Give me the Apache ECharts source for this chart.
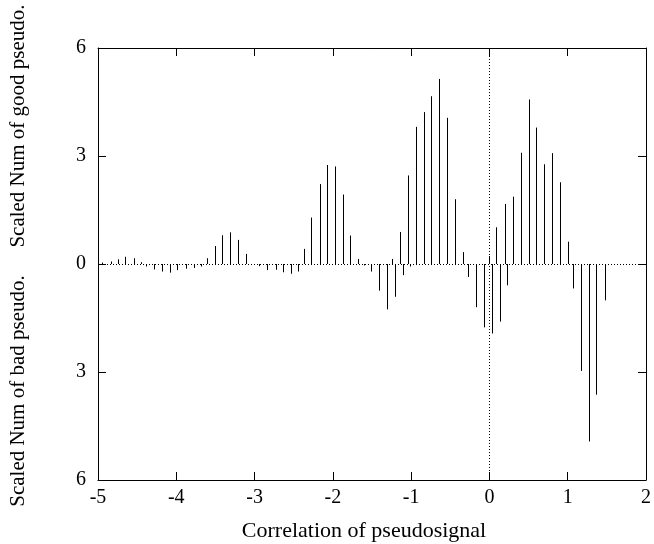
<!DOCTYPE html>
<html>
<head>
<meta charset="utf-8">
<script src="https://cdn.jsdelivr.net/npm/echarts@6/dist/echarts.min.js"></script>
<style>
html,body{margin:0;padding:0;background:#fff;}
#chart{width:654px;height:544px;}
</style>
</head>
<body>
<div id="chart"></div>
<script>
// Good pseudo (drawn upward)
const goodX = [-4.95,-4.84,-4.75,-4.65,-4.54,-4.45,
  -3.61,-3.51,-3.41,-3.31,-3.21,-3.11,
  -2.37,-2.28,-2.17,-2.07,-1.97,-1.87,-1.78,-1.68,
  -1.24,-1.14,-1.04,-0.94,-0.84,-0.74,-0.64,-0.54,-0.44,-0.34,
  0.00,0.09,0.20,0.30,0.40,0.50,0.60,0.70,0.80,0.90,1.00];
const goodY = [0.04,0.07,0.13,0.20,0.16,0.05,
  0.16,0.50,0.80,0.88,0.67,0.28,
  0.42,1.29,2.22,2.75,2.71,1.93,0.79,0.14,
  0.14,0.89,2.46,3.81,4.22,4.66,5.14,4.06,1.80,0.33,
  0.22,1.02,1.67,1.87,3.09,4.57,3.79,2.77,3.08,2.27,0.62];
// Bad pseudo (drawn downward, magnitudes)
const badX = [-4.39,-4.29,-4.18,-4.08,-3.99,-3.88,-3.78,-3.69,
  -2.94,-2.84,-2.73,-2.64,-2.54,-2.45,
  -1.60,-1.51,-1.41,-1.31,-1.21,-1.11,-1.01,
  -0.27,-0.17,-0.07,0.03,0.13,0.23,
  1.07,1.17,1.27,1.36,1.47];
const badY = [0.07,0.15,0.21,0.24,0.17,0.13,0.11,0.07,
  0.06,0.17,0.16,0.23,0.27,0.21,
  0.04,0.21,0.74,1.26,0.91,0.31,0.07,
  0.36,1.20,1.76,1.93,1.60,0.59,
  0.68,2.97,4.93,3.63,1.01];
const xTicks = {min:-5, max:2, interval:1};
const yTicks = {min:-6, max:6, interval:3};

const FONT = 'Liberation Serif';
const goodData = goodX.map((x,i)=>[x, goodY[i]]);
const badData = badX.map((x,i)=>[x, -badY[i]]);

function impulse(params, api){
  const x = api.value(0), y = api.value(1);
  const p0 = api.coord([x,0]);
  const p1 = api.coord([x,y]);
  const px = Math.round(p0[0]) + 0.5;
  return {type:'line', shape:{x1:px,y1:p0[1],x2:px,y2:p1[1]},
    style:{stroke:'#000', lineWidth:1}};
}
const axisCommon = {
  axisLine:{show:true, onZero:false, lineStyle:{color:'#000', width:1}},
  axisTick:{show:true, inside:true, length:8, lineStyle:{color:'#000', width:1}},
  splitLine:{show:false}
};
const chart = echarts.init(document.getElementById('chart'), null, {renderer:'canvas'});
chart.setOption({
  animation:false,
  backgroundColor:'#fff',
  grid:{left:98, right:6, top:48, bottom:64, containLabel:false},
  xAxis:[
    Object.assign({type:'value', position:'bottom', min:xTicks.min, max:xTicks.max, interval:xTicks.interval,
      axisLabel:{color:'#000', fontFamily:FONT, fontSize:20, margin:8}}, axisCommon),
    Object.assign({type:'value', position:'top', min:xTicks.min, max:xTicks.max, interval:xTicks.interval,
      axisLabel:{show:false}}, axisCommon)
  ],
  yAxis:[
    Object.assign({type:'value', position:'left', min:yTicks.min, max:yTicks.max, interval:yTicks.interval,
      axisLabel:{color:'#000', fontFamily:FONT, fontSize:20, margin:12, formatter:v=>String(Math.abs(v))}}, axisCommon),
    Object.assign({type:'value', position:'right', min:yTicks.min, max:yTicks.max, interval:yTicks.interval,
      axisLabel:{show:false}}, axisCommon)
  ],
  series:[
    {type:'custom', renderItem:impulse, data:goodData, xAxisIndex:0, yAxisIndex:0, clip:true,
      markLine:{silent:true, symbol:'none', animation:false, label:{show:false},
        lineStyle:{color:'#000', width:1, type:[1,2]},
        data:[{yAxis:0},{xAxis:0}]}},
    {type:'custom', renderItem:impulse, data:badData, xAxisIndex:0, yAxisIndex:0, clip:true}
  ],
  graphic:[
    {type:'text', x:364, y:531, style:{text:'Correlation of pseudosignal', font:'22px "Liberation Serif"', fill:'#000', align:'center', verticalAlign:'middle'}},
    {type:'text', x:18, y:126, rotation:Math.PI/2, style:{text:'Scaled Num of good pseudo.', font:'21px "Liberation Serif"', fill:'#000', align:'center', verticalAlign:'middle'}},
    {type:'text', x:18, y:391, rotation:Math.PI/2, style:{text:'Scaled Num of bad pseudo.', font:'21px "Liberation Serif"', fill:'#000', align:'center', verticalAlign:'middle'}}
  ]
});
</script>
</body>
</html>
